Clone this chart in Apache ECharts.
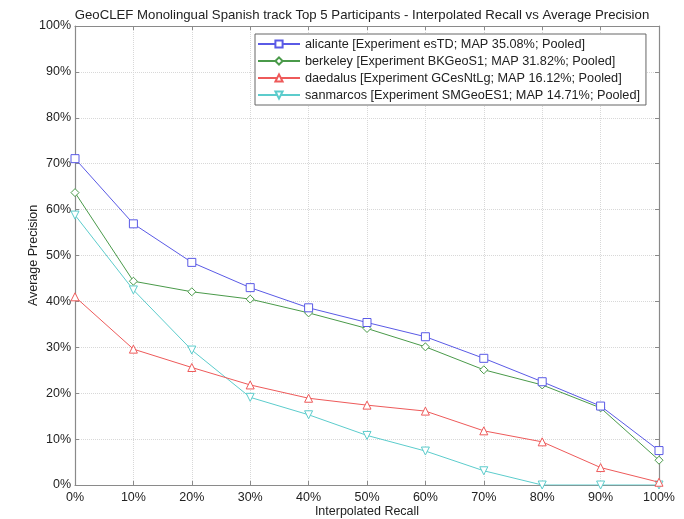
<!DOCTYPE html>
<html>
<head>
<meta charset="utf-8">
<script src="https://cdn.jsdelivr.net/npm/echarts@6/dist/echarts.min.js"></script>
<style>html,body{margin:0;padding:0;background:#fff}#c{width:684px;height:519px}</style>
</head>
<body>
<div id="c"></div>
<script>
const recall = [0, 10, 20, 30, 40, 50, 60, 70, 80, 90, 100];
const alicante = [71.1, 56.9, 48.5, 43.0, 38.6, 35.4, 32.3, 27.6, 22.5, 17.2, 7.5];
const berkeley = [63.7, 44.4, 42.1, 40.5, 37.5, 34.1, 30.1, 25.1, 21.8, 16.8, 5.4];
const daedalus = [41.0, 29.6, 25.6, 21.8, 18.9, 17.4, 16.1, 11.8, 9.4, 3.8, 0.6];
const sanmarcos = [58.8, 42.5, 29.4, 19.1, 15.3, 10.8, 7.4, 3.1, 0, 0, 0];
const names = [
  'alicante [Experiment esTD; MAP 35.08%; Pooled]',
  'berkeley [Experiment BKGeoS1; MAP 31.82%; Pooled]',
  'daedalus [Experiment GCesNtLg; MAP 16.12%; Pooled]',
  'sanmarcos [Experiment SMGeoES1; MAP 14.71%; Pooled]'
];
const colors = ['#5a5ae6', '#4a9a4a', '#ee5a5a', '#5ccccc'];
const symbols = ['rect', 'diamond', 'triangle', 'path://M0,0 L10,0 L5,10 Z'];
const values = [alicante, berkeley, daedalus, sanmarcos];

const font = 'Liberation Sans, Arial, sans-serif';
const chart = echarts.init(document.getElementById('c'), null, {renderer: 'canvas'});
const axisCommon = () => ({
  type: 'value', min: 0, max: 100, interval: 10,
  axisLine: {show: true, onZero: false, lineStyle: {color: '#8a8a8a', width: 1.2}},
  axisTick: {show: true, inside: true, length: 4, lineStyle: {color: '#8a8a8a'}},
});
chart.setOption({
  animation: false,
  backgroundColor: '#fff',
  title: {
    text: 'GeoCLEF Monolingual Spanish track Top 5 Participants - Interpolated Recall vs Average Precision',
    left: 357, top: 4, textAlign: 'center',
    textStyle: {fontFamily: font, fontSize: 13.2, fontWeight: 'normal', color: '#222'}
  },
  legend: {
    orient: 'vertical', left: 255, top: 34,
    data: names,
    backgroundColor: '#fff',
    borderColor: '#666', borderWidth: 1,
    padding: [3, 6, 3, 2],
    itemWidth: 42, itemHeight: 9, itemGap: 3,
    textStyle: {fontFamily: font, fontSize: 12.7, lineHeight: 14, color: '#222'}
  },
  grid: {left: 75, right: 25, top: 26, bottom: 34, show: false, outerBoundsMode: 'none', containLabel: false},
  xAxis: [
    Object.assign(axisCommon(), {
      position: 'bottom',
      name: 'Interpolated Recall', nameLocation: 'middle', nameGap: 20, nameMoveOverlap: false,
      nameTextStyle: {fontFamily: font, fontSize: 12.5, color: '#222'},
      axisLabel: {formatter: '{value}%', fontFamily: font, fontSize: 12.5, color: '#222', margin: 6},
      splitLine: {show: true, lineStyle: {color: '#d8d8d8', type: 'dotted'}}
    }),
    Object.assign(axisCommon(), {
      position: 'top', axisLabel: {show: false}, splitLine: {show: false}
    })
  ],
  yAxis: [
    Object.assign(axisCommon(), {
      position: 'left',
      name: 'Average Precision', nameLocation: 'middle', nameGap: 35, nameMoveOverlap: false,
      nameTextStyle: {fontFamily: font, fontSize: 12.5, color: '#222'},
      axisLabel: {formatter: '{value}%', fontFamily: font, fontSize: 12.5, color: '#222', margin: 4},
      splitLine: {show: true, lineStyle: {color: '#d8d8d8', type: 'dotted'}}
    }),
    Object.assign(axisCommon(), {
      position: 'right', axisLabel: {show: false}, splitLine: {show: false}
    })
  ],
  series: values.map((v, i) => ({
    name: names[i],
    type: 'line',
    data: recall.map((r, j) => [r, v[j]]),
    symbol: symbols[i],
    symbolSize: 8,
    showSymbol: true,
    color: colors[i],
    lineStyle: {color: colors[i], width: 1},
    itemStyle: {color: '#fff', borderColor: colors[i], borderWidth: 1},
    z: 10 - i
  }))
});
</script>
</body>
</html>
